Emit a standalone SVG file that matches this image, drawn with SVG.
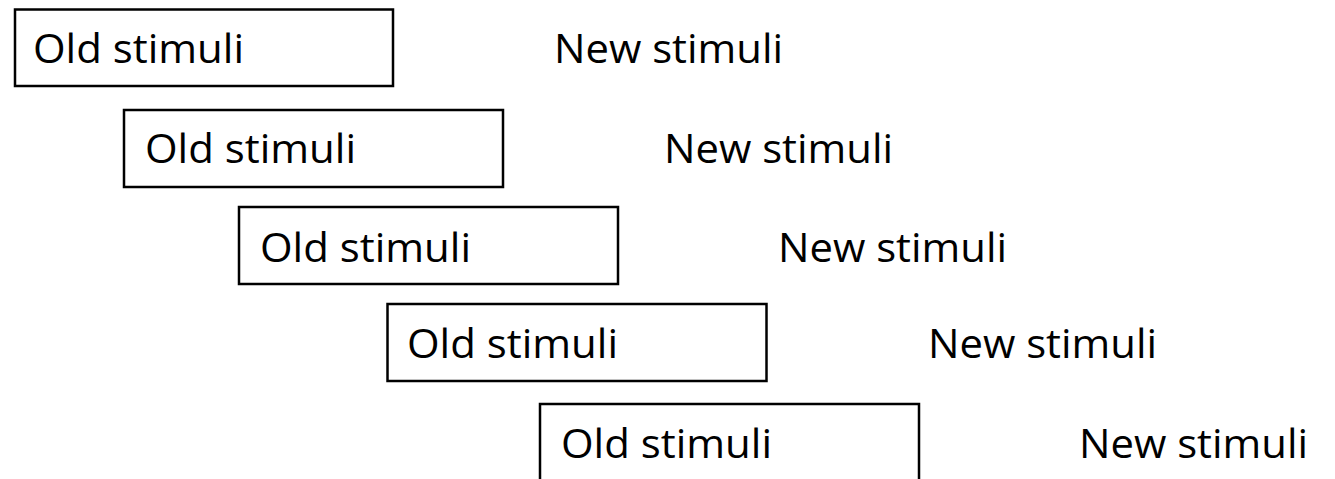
<svg xmlns="http://www.w3.org/2000/svg" width="1335" height="479" viewBox="0 0 1335 479">
<style>
.box{fill:#fff;stroke:#000;stroke-width:2.5}
.t{font-family:"Open Sans","Noto Sans","Liberation Sans",sans-serif;font-size:41px;fill:#000}
</style>
<rect width="1335" height="479" fill="#fff"/>
<g id="old1"><rect class="box" x="15" y="9.5" width="378" height="76.5"/><text class="t" x="33" y="63" textLength="211" lengthAdjust="spacingAndGlyphs">Old stimuli</text></g>
<g id="new1"><text class="t" x="554" y="63" textLength="229" lengthAdjust="spacingAndGlyphs">New stimuli</text></g>
<g id="old2"><rect class="box" x="124" y="110" width="379" height="77"/><text class="t" x="145" y="163" textLength="211" lengthAdjust="spacingAndGlyphs">Old stimuli</text></g>
<g id="new2"><text class="t" x="664" y="163" textLength="229" lengthAdjust="spacingAndGlyphs">New stimuli</text></g>
<g id="old3"><rect class="box" x="239" y="207" width="379" height="77"/><text class="t" x="260" y="262" textLength="211" lengthAdjust="spacingAndGlyphs">Old stimuli</text></g>
<g id="new3"><text class="t" x="778" y="262" textLength="229" lengthAdjust="spacingAndGlyphs">New stimuli</text></g>
<g id="old4"><rect class="box" x="387.5" y="304" width="379" height="77"/><text class="t" x="407" y="358" textLength="211" lengthAdjust="spacingAndGlyphs">Old stimuli</text></g>
<g id="new4"><text class="t" x="928" y="358" textLength="229" lengthAdjust="spacingAndGlyphs">New stimuli</text></g>
<g id="old5"><rect class="box" x="540" y="404" width="379" height="90"/><text class="t" x="561" y="458" textLength="211" lengthAdjust="spacingAndGlyphs">Old stimuli</text></g>
<g id="new5"><text class="t" x="1079" y="458" textLength="229" lengthAdjust="spacingAndGlyphs">New stimuli</text></g>
<g id="connectors"/>
</svg>
